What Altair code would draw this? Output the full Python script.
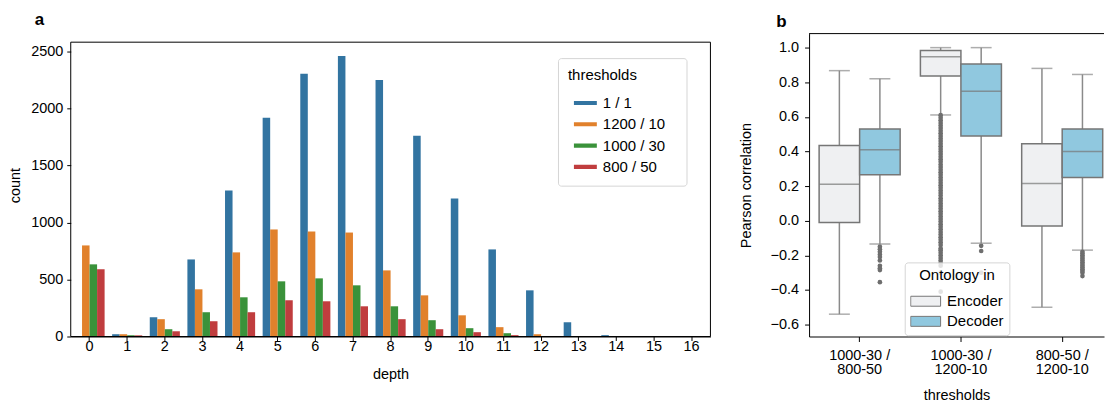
import altair as alt
import pandas as pd

# ---------------- panel a data ----------------
depth = ["0", "1", "2", "3", "4", "5", "6", "7", "8", "9", "10", "11", "12", "13", "14", "15", "16"]
thresholds = ["1 / 1", "1200 / 10", "1000 / 30", "800 / 50"]
count_1_1 = [0, 20, 169, 676, 1280, 1919, 2304, 2461, 2251, 1761, 1210, 764, 405, 125, 12, 2, 1]
count_1200_10 = [799, 20, 152, 414, 738, 939, 921, 912, 580, 361, 186, 82, 20, 2, 0, 0, 0]
count_1000_30 = [633, 10, 64, 213, 344, 484, 510, 449, 265, 143, 73, 29, 4, 1, 0, 0, 0]
count_800_50 = [589, 10, 46, 134, 213, 318, 309, 265, 152, 64, 38, 12, 3, 0, 0, 0, 0]
bar_colors = ["#3274a1", "#e1812c", "#3a923a", "#c03d3e"]

# ---------------- panel b data ----------------
groups = ["1000-30 /\n800-50", "1000-30 /\n1200-10", "800-50 /\n1200-10"]
hues = ["Encoder", "Decoder"]
box_colors = ["#eff0f2", "#90c8df"]
enc_whislo = [-0.54, 0.611, -0.50]
enc_q1 = [-0.01, 0.836, -0.03]
enc_med = [0.21, 0.948, 0.215]
enc_q3 = [0.435, 0.983, 0.445]
enc_whishi = [0.867, 1.0, 0.88]
dec_whislo = [-0.135, -0.13, -0.17]
dec_q1 = [0.265, 0.49, 0.25]
dec_med = [0.41, 0.748, 0.40]
dec_q3 = [0.53, 0.905, 0.53]
dec_whishi = [0.82, 1.0, 0.845]

out_enc_g1 = []
out_dec_g1 = [-0.15, -0.165, -0.18, -0.195, -0.21, -0.23, -0.26, -0.275, -0.285, -0.355]
out_enc_g2 = [0.61, 0.595, 0.58, 0.565, 0.55, 0.535, 0.52, 0.505, 0.49, 0.475, 0.46, 0.445,
              0.43, 0.415, 0.40, 0.385, 0.37, 0.355, 0.34, 0.325, 0.31, 0.295, 0.28, 0.265,
              0.25, 0.235, 0.22, 0.205, 0.19, 0.175, 0.16, 0.145, 0.13, 0.115, 0.10, 0.085,
              0.07, 0.055, 0.04, 0.025, 0.01, -0.005, -0.02, -0.035, -0.05, -0.065, -0.08,
              -0.095, -0.11, -0.125, -0.14, -0.16, -0.17, -0.185, -0.20, -0.215, -0.23,
              -0.245, -0.26, -0.30, -0.41]
out_dec_g2 = [-0.145, -0.175, -0.30]
out_enc_g3 = []
out_dec_g3 = [-0.18, -0.19, -0.20, -0.21, -0.22, -0.23, -0.24, -0.25, -0.26, -0.27,
              -0.28, -0.29, -0.30, -0.32]

FONT = "Liberation Sans"
INK = "#000000"
LINE = "#767676"
WA, HA = 642, 304      # panel a drawing area (its frame starts 8.6 px below the top)
FRAME_TOP = 8.6
WB, HB = 296, 304      # panel b plot (its right spine lies outside the picture)
FS = 14.5
PAD_CHAR = "\u2800"    # blank filler that widens the legend box like the reference

# ---------------- build tables ----------------
series_a = [count_1_1, count_1200_10, count_1000_30, count_800_50]
rows_a = []
for t, vals in zip(thresholds, series_a):
    for d, v in zip(depth, vals):
        rows_a.append({"depth": d, "thresholds": t, "count": v})
df_a = pd.DataFrame(rows_a)

stats = {
    "Encoder": (enc_whislo, enc_q1, enc_med, enc_q3, enc_whishi),
    "Decoder": (dec_whislo, dec_q1, dec_med, dec_q3, dec_whishi),
}
rows_b = []
for h in hues:
    wl, q1, md, q3, wh = stats[h]
    for i, g in enumerate(groups):
        rows_b.append({"group": g, "hue": h, "whislo": wl[i], "q1": q1[i],
                       "med": md[i], "q3": q3[i], "whishi": wh[i]})
df_b = pd.DataFrame(rows_b)

outs = {
    ("Encoder", 0): out_enc_g1, ("Decoder", 0): out_dec_g1,
    ("Encoder", 1): out_enc_g2, ("Decoder", 1): out_dec_g2,
    ("Encoder", 2): out_enc_g3, ("Decoder", 2): out_dec_g3,
}
rows_o = []
for (h, gi), vals in outs.items():
    for v in vals:
        rows_o.append({"group": groups[gi], "hue": h, "value": v})
df_o = pd.DataFrame(rows_o)

one = pd.DataFrame({"k": [0]})

# ---------------- panel a ----------------
ya_axis = alt.Axis(title="count", values=[0, 500, 1000, 1500, 2000, 2500],
                   format="d", tickSize=4, labelPadding=4, titlePadding=8,
                   labelOverlap=False, domain=False)
bars = alt.Chart(df_a).mark_bar().encode(
    x=alt.X("depth:N", sort=depth,
            scale=alt.Scale(paddingInner=0.2, paddingOuter=0.1),
            axis=alt.Axis(title="depth", labelAngle=0, tickSize=4, labelPadding=-1,
                          titlePadding=15)),
    xOffset=alt.XOffset("thresholds:N", sort=thresholds,
                        scale=alt.Scale(domain=thresholds, paddingInner=0, paddingOuter=0)),
    y=alt.Y("count:Q", scale=alt.Scale(domain=[0, 2657], nice=False), axis=ya_axis),
    color=alt.Color("thresholds:N", sort=thresholds,
                    scale=alt.Scale(domain=thresholds, range=bar_colors),
                    legend=alt.Legend(title="thresholds", orient="none",
                                      legendX=489, legendY=24.6,
                                      fillColor="white", strokeColor="#d5d5d5",
                                      cornerRadius=3, padding=10,
                                      titleFontSize=15, titleFontWeight="normal",
                                      titlePadding=12.5, labelFontSize=15,
                                      labelExpr="datum.label + '" + PAD_CHAR + "'",
                                      symbolType="M-1,-0.18H1V0.18H-1Z",
                                      symbolSize=529, symbolStrokeWidth=0,
                                      symbolOffset=6, clipHeight=15, rowPadding=5.4,
                                      labelOffset=6)),
)
frame_a = alt.Chart(one).mark_rect(fillOpacity=0, stroke=INK, strokeWidth=1).encode(
    x=alt.value(0), x2=alt.value(WA), y=alt.value(FRAME_TOP), y2=alt.value(HA))

panel_a = alt.layer(bars, frame_a).properties(
    width=WA, height=HA,
    title=alt.TitleParams("a", anchor="start", frame="group", dx=-36, offset=5,
                          fontSize=17, fontWeight="bold", font=FONT, color=INK),
    view=alt.ViewBackground(stroke=None),
)

# ---------------- panel b ----------------
xb = alt.X("group:N", sort=groups,
           scale=alt.Scale(paddingInner=0.2, paddingOuter=0.056, align=0.886),
           axis=alt.Axis(title="thresholds", labelAngle=0, tickSize=5, labelPadding=7,
                         labelExpr="split(datum.label, '\\n')", labelLineHeight=14.5,
                         titlePadding=12))
xo = alt.XOffset("hue:N", sort=hues,
                 scale=alt.Scale(domain=hues, paddingInner=0, paddingOuter=0))
yscale = alt.Scale(domain=[-0.669, 1.081], nice=False, zero=False)
yaxis = alt.Axis(title="Pearson correlation",
                 values=[-0.6, -0.4, -0.2, 0.0, 0.2, 0.4, 0.6, 0.8, 1.0],
                 format=".1f", tickSize=4.5, labelPadding=6, titlePadding=17,
                 labelOverlap=False)

base_b = alt.Chart(df_b)
top_spine = alt.Chart(one).mark_rule(color=INK, strokeWidth=1).encode(
    x=alt.value(0), x2=alt.value(WB), y=alt.value(0))
whisk = base_b.mark_rule(color="#8a8a8a", strokeWidth=1.5).encode(
    x=xb, xOffset=xo,
    y=alt.Y("whislo:Q", scale=yscale, axis=yaxis), y2="whishi:Q")
cap_lo = base_b.mark_tick(color="#8a8a8a", thickness=1.5, size=21).encode(
    x=xb, xOffset=xo, y=alt.Y("whislo:Q", scale=yscale, axis=yaxis))
cap_hi = base_b.mark_tick(color="#8a8a8a", thickness=1.5, size=21).encode(
    x=xb, xOffset=xo, y=alt.Y("whishi:Q", scale=yscale, axis=yaxis))
box = base_b.mark_bar(stroke=LINE, strokeWidth=1.5).encode(
    x=xb, xOffset=xo,
    y=alt.Y("q1:Q", scale=yscale, axis=yaxis), y2="q3:Q",
    color=alt.Color("hue:N", sort=hues,
                    scale=alt.Scale(domain=hues, range=box_colors),
                    legend=alt.Legend(title="Ontology in", orient="none",
                                      legendX=96, legendY=229.6,
                                      fillColor="rgba(255,255,255,0.8)",
                                      strokeColor="#d5d5d5", cornerRadius=3,
                                      padding=5.5, titleFontSize=15,
                                      titleFontWeight="normal", titlePadding=11,
                                      titleAnchor="middle",
                                      labelFontSize=15,
                                      symbolType="M-1,-0.333H1V0.333H-1Z",
                                      symbolSize=900, symbolStrokeColor=LINE,
                                      symbolStrokeWidth=1, clipHeight=15,
                                      rowPadding=4.2, labelOffset=6)))
med = base_b.mark_tick(color=LINE, thickness=1.5, size=40).encode(
    x=xb, xOffset=xo, y=alt.Y("med:Q", scale=yscale, axis=yaxis))
outl = alt.Chart(df_o).mark_circle(size=22, color="#6e6e6e", opacity=1).encode(
    x=xb, xOffset=xo, y=alt.Y("value:Q", scale=yscale, axis=yaxis))

panel_b = alt.layer(whisk, cap_lo, cap_hi, box, med, outl, top_spine).properties(
    width=WB, height=HB,
    title=alt.TitleParams("b", anchor="start", frame="group", dx=-33, offset=2,
                          fontSize=17, fontWeight="bold", font=FONT, color=INK),
    view=alt.ViewBackground(stroke=None),
)

chart = alt.hconcat(panel_a, panel_b, spacing=26).resolve_scale(
    color="independent", xOffset="independent", x="independent", y="independent"
).properties(
    padding={"left": 7, "top": 10, "right": 0, "bottom": 0}
).configure(
    font=FONT,
).configure_axis(
    labelFont=FONT, titleFont=FONT, labelFontSize=FS, titleFontSize=FS,
    titleFontWeight="normal", labelColor=INK, titleColor=INK,
    domainColor=INK, tickColor=INK, grid=False,
).configure_legend(
    labelFont=FONT, titleFont=FONT, labelColor=INK, titleColor=INK,
)

chart.save("out.html", embed_options={"renderer": "svg", "actions": False})
